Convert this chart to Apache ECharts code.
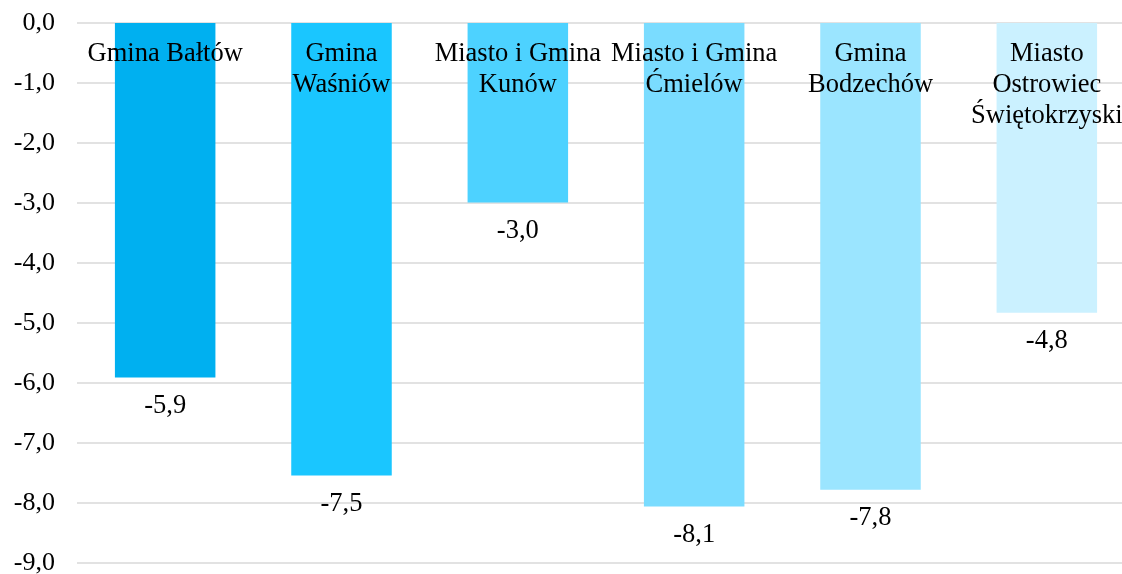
<!DOCTYPE html>
<html>
<head>
<meta charset="utf-8">
<script src="https://cdn.jsdelivr.net/npm/echarts@6/dist/echarts.min.js"></script>
<style>
html,body{margin:0;padding:0;background:#fff;}
#chart{width:1122px;height:574px;}
</style>
</head>
<body>
<div id="chart"></div>
<script>
var categories = [
  "Gmina Bałtów",
  "Gmina\nWaśniów",
  "Miasto i Gmina\nKunów",
  "Miasto i Gmina\nĆmielów",
  "Gmina\nBodzechów",
  "Miasto\nOstrowiec\nŚwiętokrzyski"
];
var values = [-5.91, -7.54, -2.99, -8.06, -7.78, -4.83];
var barColors = ["#00B0F0", "#1AC6FF", "#4DD2FF", "#7ADCFF", "#9BE5FF", "#CBF1FF"];

function fmt(v) { return Number(v).toFixed(1).replace('.', ','); }

var chart = echarts.init(document.getElementById('chart'));
var font = "'Liberation Serif', 'Times New Roman', serif";
chart.setOption({
  animation: false,
  grid: { left: 77, top: 23, bottom: 11, right: -13, outerBoundsMode: 'none', containLabel: false },
  xAxis: {
    type: 'category',
    data: categories,
    position: 'top',
    z: 10,
    axisLine: { show: false },
    axisTick: { show: false },
    axisLabel: {
      inside: true,
      interval: 0,
      margin: 16,
      color: '#000',
      fontFamily: font,
      fontSize: 26.5,
      lineHeight: 31
    }
  },
  yAxis: {
    type: 'value',
    min: -9,
    max: 0,
    interval: 1,
    axisLine: { show: false },
    axisTick: { show: false },
    splitLine: { lineStyle: { color: '#D9D9D9', width: 1.5 } },
    axisLabel: {
      margin: 22,
      color: '#000',
      fontFamily: font,
      fontSize: 26,
      formatter: fmt
    }
  },
  series: [{
    type: 'bar',
    data: values.map(function (v, i) { return { value: v, itemStyle: { color: barColors[i] } }; }),
    barWidth: '57%',
    z: 1,
    label: {
      show: true,
      position: 'bottom',
      distance: 15,
      color: '#000',
      fontFamily: font,
      fontSize: 26.5,
      formatter: function (p) { return fmt(p.value); }
    }
  }]
});
</script>
</body>
</html>
